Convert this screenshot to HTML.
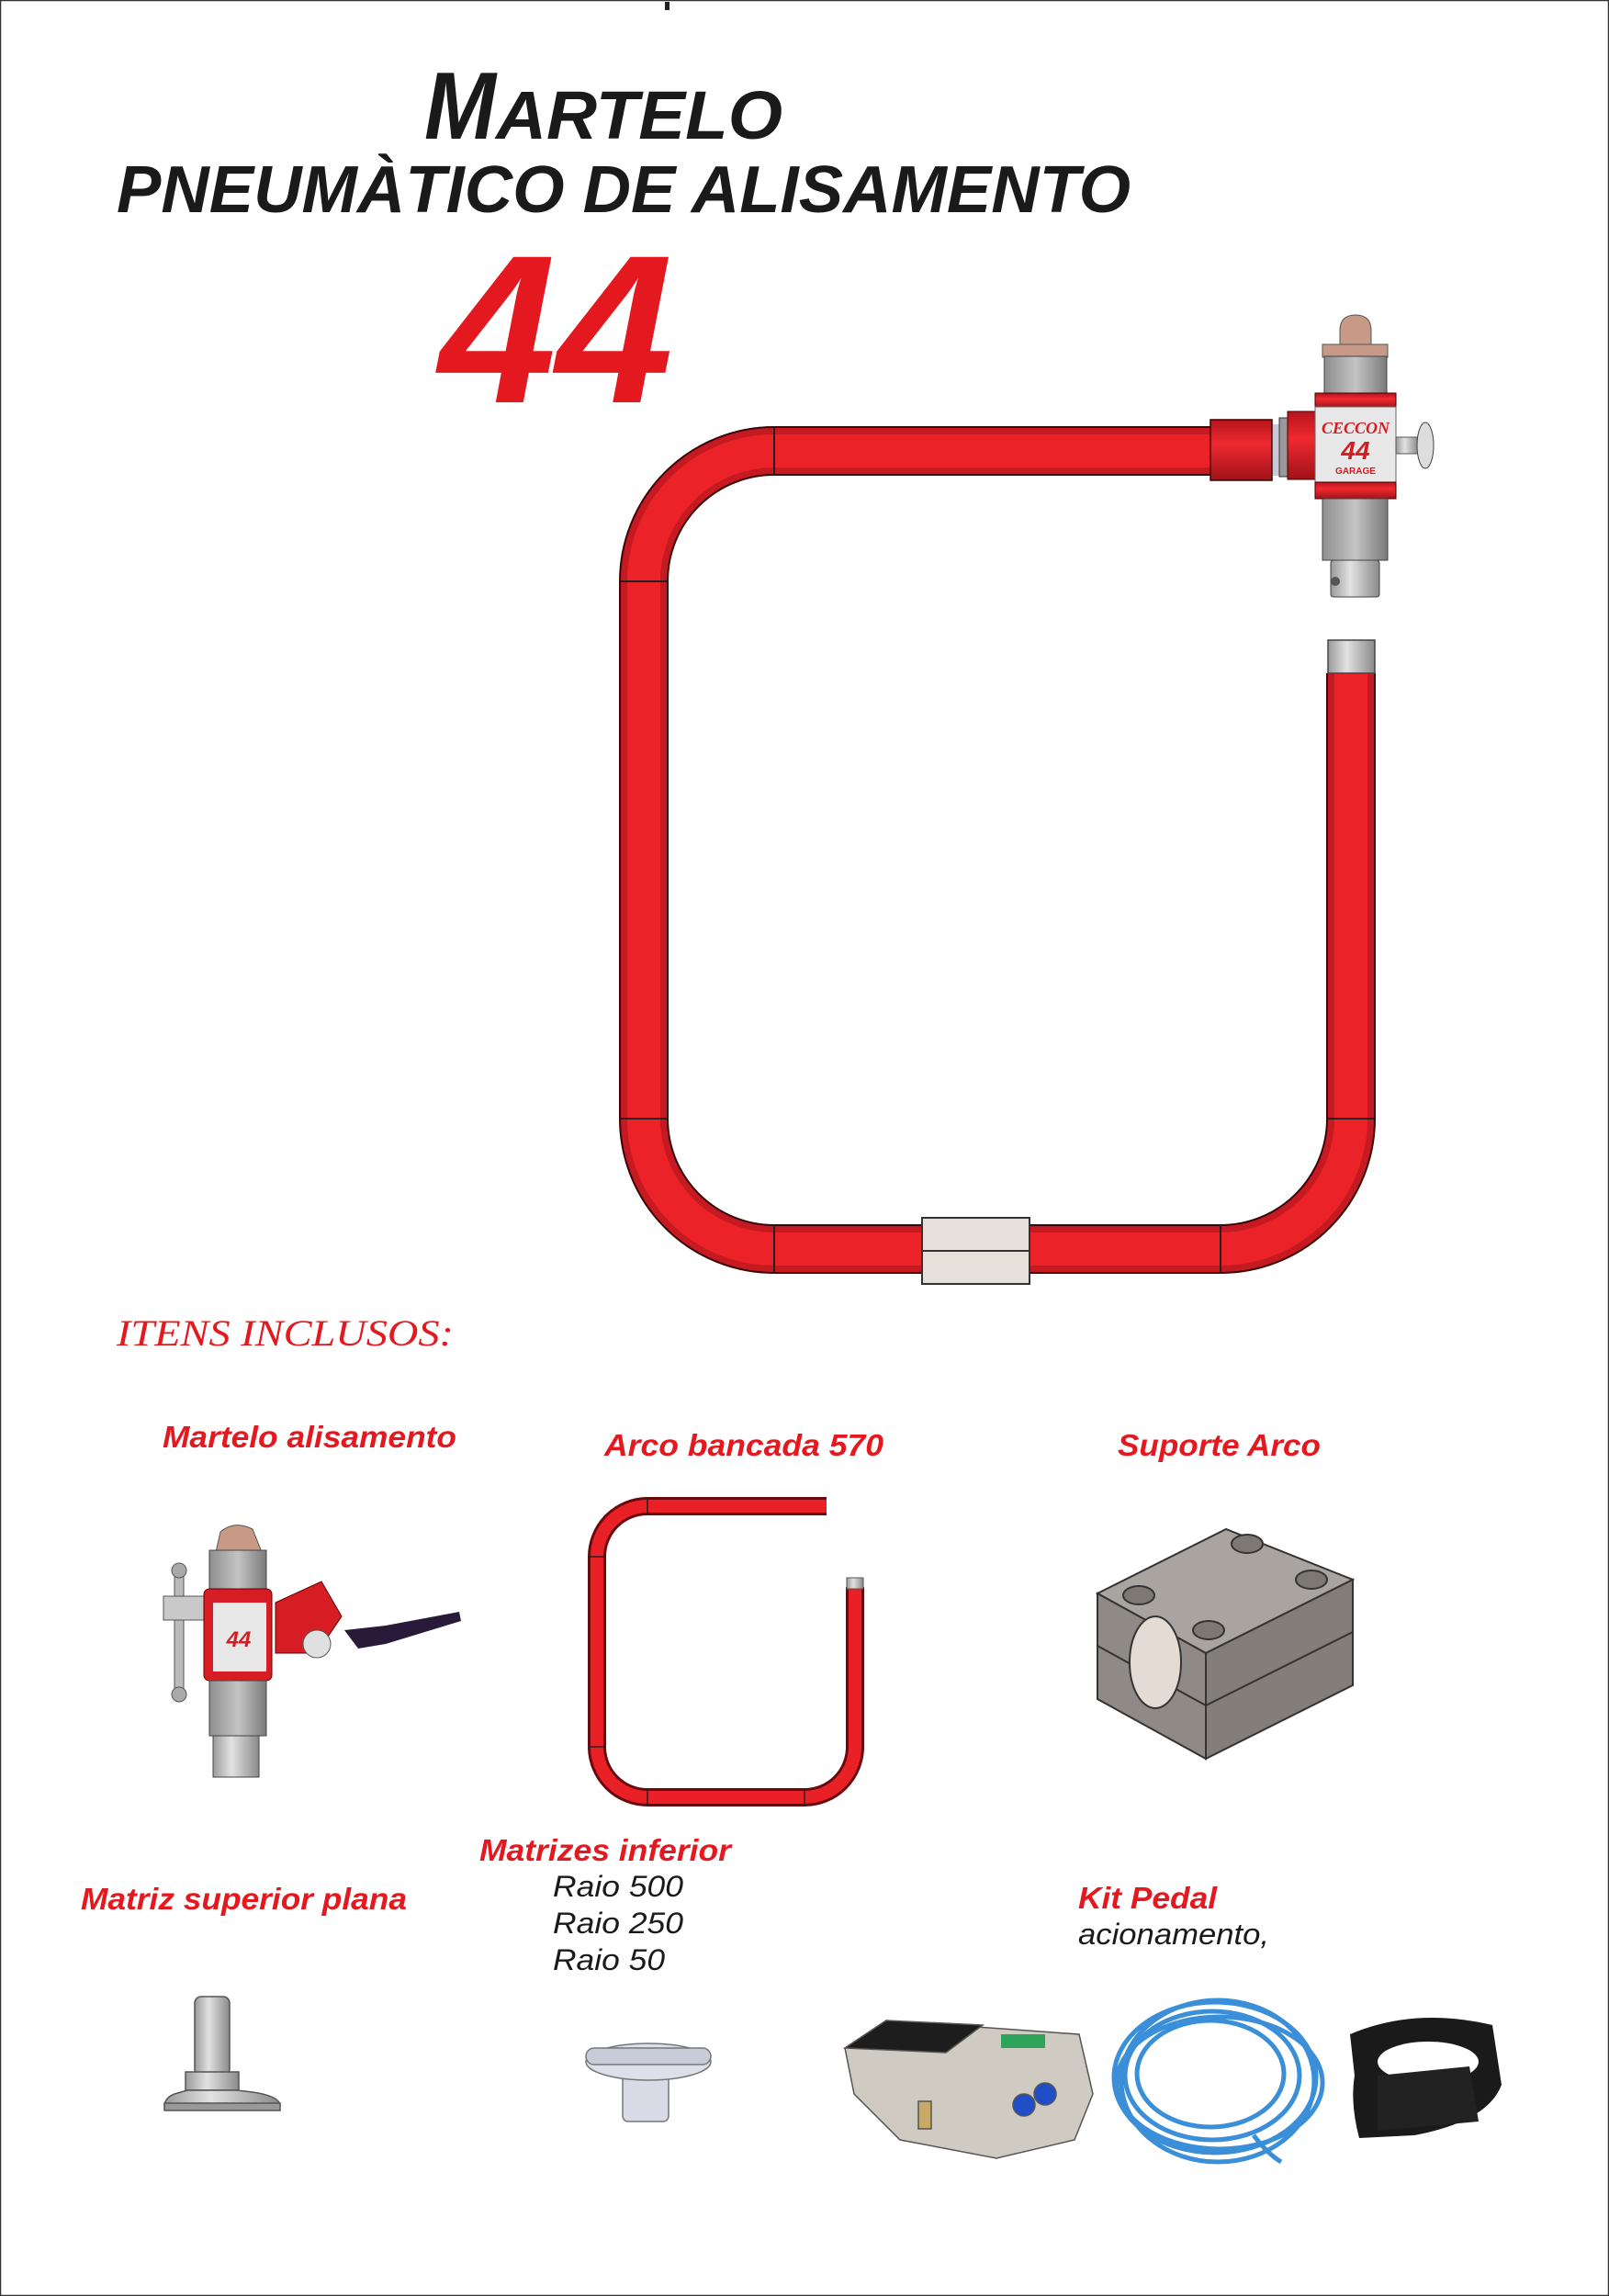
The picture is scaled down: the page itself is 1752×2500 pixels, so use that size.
<!DOCTYPE html>
<html><head><meta charset="utf-8"><style>
html,body{margin:0;padding:0;background:#fff}
svg{display:block}
</style></head><body>
<svg width="1752" height="2500" viewBox="0 0 1752 2500" xmlns="http://www.w3.org/2000/svg">
<defs>
<linearGradient id="gr" x1="0" y1="0" x2="1" y2="0"><stop offset="0" stop-color="#8e8e8e"/><stop offset=".5" stop-color="#c4c4c4"/><stop offset="1" stop-color="#7a7a7a"/></linearGradient>
<linearGradient id="sil" x1="0" y1="0" x2="1" y2="0"><stop offset="0" stop-color="#9a9a9a"/><stop offset=".4" stop-color="#e2e2e2"/><stop offset="1" stop-color="#8a8a8a"/></linearGradient>
<linearGradient id="rd" x1="0" y1="0" x2="0" y2="1"><stop offset="0" stop-color="#b5141b"/><stop offset=".4" stop-color="#ee2a30"/><stop offset="1" stop-color="#a0121a"/></linearGradient>
</defs>
<rect x="0.5" y="0.5" width="1751" height="2499" fill="#fff" stroke="#333" stroke-width="1.5"/>
<rect x="724" y="2" width="5" height="9" fill="#222"/>

<!-- Title -->
<g font-family="Liberation Sans, sans-serif" font-weight="bold" font-style="italic" fill="#1a1a1a">
<text x="462" y="151" font-size="104" textLength="78" lengthAdjust="spacingAndGlyphs">M</text>
<text x="540" y="151" font-size="74" textLength="312" lengthAdjust="spacingAndGlyphs">ARTELO</text>
<text x="127" y="231" font-size="72" textLength="1104" lengthAdjust="spacingAndGlyphs">PNEUMÀTICO DE ALISAMENTO</text>
</g>
<text x="478" y="438" font-family="Liberation Sans, sans-serif" font-weight="bold" font-style="italic" font-size="230" fill="#e4191f" textLength="255" lengthAdjust="spacingAndGlyphs">44</text>

<!-- Main arc -->
<g fill="none" stroke-linecap="butt">
<path d="M1322,491 H843 A142,142 0 0 0 701,633 V1218 A142,142 0 0 0 843,1360 H1329 A142,142 0 0 0 1471,1218 V733" stroke="#3a0608" stroke-width="54"/>
<path d="M1322,491 H843 A142,142 0 0 0 701,633 V1218 A142,142 0 0 0 843,1360 H1329 A142,142 0 0 0 1471,1218 V733" stroke="#c51a21" stroke-width="50"/>
<path d="M1322,491 H843 A142,142 0 0 0 701,633 V1218 A142,142 0 0 0 843,1360 H1329 A142,142 0 0 0 1471,1218 V733" stroke="#ec2229" stroke-width="36"/>
</g>
<g stroke="#222" stroke-width="2">
<line x1="843" y1="465" x2="843" y2="518"/><line x1="676" y1="633" x2="727" y2="633"/>
<line x1="676" y1="1218" x2="727" y2="1218"/><line x1="843" y1="1334" x2="843" y2="1387"/>
<line x1="1329" y1="1334" x2="1329" y2="1387"/><line x1="1445" y1="1218" x2="1497" y2="1218"/>
</g>
<rect x="1446" y="697" width="51" height="36" fill="url(#sil)" stroke="#444" stroke-width="1.5"/>
<rect x="1004" y="1326" width="117" height="36" fill="#e6e0da" stroke="#333" stroke-width="2"/>
<rect x="1004" y="1362" width="117" height="36" fill="#e6e0da" stroke="#333" stroke-width="2"/>

<!-- Hammer top -->
<rect x="1318" y="457" width="67" height="66" fill="url(#rd)" stroke="#400" stroke-width="1.5"/>
<rect x="1386" y="462" width="8" height="56" fill="#c8c8d8"/>
<rect x="1393" y="455" width="10" height="64" fill="#999" stroke="#333"/>
<rect x="1402" y="448" width="30" height="74" fill="url(#rd)" stroke="#400"/>
<path d="M1459,388 V360 Q1459,343 1476,343 Q1493,343 1493,360 V388 Z" fill="#c69a86" stroke="#555"/>
<rect x="1440" y="375" width="71" height="14" fill="#c69a86" stroke="#555"/>
<rect x="1442" y="388" width="68" height="40" fill="url(#gr)" stroke="#444"/>
<rect x="1432" y="428" width="88" height="16" fill="url(#rd)" stroke="#400"/>
<rect x="1432" y="443" width="88" height="82" fill="#e8e8e8" stroke="#666"/>
<text x="1476" y="472" text-anchor="middle" font-family="Liberation Serif, serif" font-weight="bold" font-style="italic" font-size="18" fill="#d31b22">CECCON</text>
<text x="1476" y="500" text-anchor="middle" font-family="Liberation Sans, sans-serif" font-weight="bold" font-style="italic" font-size="28" fill="#d31b22">44</text>
<text x="1476" y="516" text-anchor="middle" font-family="Liberation Sans, sans-serif" font-weight="bold" font-size="10" fill="#d31b22">GARAGE</text>
<rect x="1432" y="525" width="88" height="18" fill="url(#rd)" stroke="#400"/>
<rect x="1520" y="476" width="24" height="18" fill="url(#sil)" stroke="#555"/>
<ellipse cx="1552" cy="485" rx="9" ry="25" fill="#ddd" stroke="#444"/>
<rect x="1440" y="543" width="71" height="67" fill="url(#gr)" stroke="#444"/>
<rect x="1449" y="610" width="53" height="40" rx="3" fill="url(#sil)" stroke="#444"/>
<circle cx="1454" cy="633" r="5" fill="#555"/>

<!-- Section heading -->
<text x="127" y="1465" font-family="Liberation Serif, serif" font-style="italic" font-size="40" fill="#e4191f" textLength="367" lengthAdjust="spacingAndGlyphs">ITENS INCLUSOS:</text>

<g font-family="Liberation Sans, sans-serif" font-weight="bold" font-style="italic" fill="#e4191f" font-size="33">
<text x="177" y="1576" textLength="320" lengthAdjust="spacingAndGlyphs">Martelo alisamento</text>
<text x="658" y="1585" textLength="304" lengthAdjust="spacingAndGlyphs">Arco bancada 570</text>
<text x="1217" y="1585" textLength="221" lengthAdjust="spacingAndGlyphs">Suporte Arco</text>
<text x="522" y="2026" textLength="274" lengthAdjust="spacingAndGlyphs">Matrizes inferior</text>
<text x="88" y="2079" textLength="355" lengthAdjust="spacingAndGlyphs">Matriz superior plana</text>
<text x="1174" y="2078" textLength="151" lengthAdjust="spacingAndGlyphs">Kit Pedal</text>
</g>
<g font-family="Liberation Sans, sans-serif" font-style="italic" fill="#1a1a1a" font-size="32">
<text x="602" y="2065" textLength="142" lengthAdjust="spacingAndGlyphs">Raio 500</text>
<text x="602" y="2105" textLength="142" lengthAdjust="spacingAndGlyphs">Raio 250</text>
<text x="602" y="2145" textLength="122" lengthAdjust="spacingAndGlyphs">Raio 50</text>
<text x="1174" y="2117" textLength="208" lengthAdjust="spacingAndGlyphs">acionamento,</text>
</g>

<!-- Item: hammer -->
<g>
<rect x="190" y="1715" width="10" height="125" fill="#bbb" stroke="#555"/>
<circle cx="195" cy="1710" r="8" fill="#aaa" stroke="#555"/>
<circle cx="195" cy="1845" r="8" fill="#aaa" stroke="#555"/>
<rect x="178" y="1738" width="70" height="26" fill="#c9c9c9" stroke="#555"/>
<path d="M300,1745 L350,1722 L372,1760 L345,1800 L300,1800 Z" fill="#d71d24" stroke="#600"/>
<path d="M375,1775 L420,1770 L500,1755 L502,1765 L420,1790 L390,1795 Z" fill="#2a1a3a"/>
<circle cx="345" cy="1790" r="15" fill="#e0e0e0" stroke="#555"/>
<path d="M235,1690 L240,1668 Q255,1655 275,1665 L285,1690 Z" fill="#c69a86" stroke="#555"/>
<rect x="228" y="1688" width="62" height="45" fill="url(#gr)" stroke="#444"/>
<rect x="222" y="1730" width="74" height="100" rx="6" fill="#d71d24" stroke="#600"/>
<rect x="232" y="1745" width="58" height="75" fill="#e8e8e8"/>
<text x="260" y="1793" text-anchor="middle" font-family="Liberation Sans, sans-serif" font-weight="bold" font-style="italic" font-size="24" fill="#d71d24">44</text>
<rect x="228" y="1830" width="62" height="60" fill="url(#gr)" stroke="#444"/>
<rect x="232" y="1890" width="50" height="45" fill="url(#sil)" stroke="#444"/>
</g>

<!-- Item: small arco -->
<g fill="none">
<path d="M900,1640 H705 A55,55 0 0 0 650,1695 V1902 A55,55 0 0 0 705,1957 H876 A55,55 0 0 0 931,1902 V1728" stroke="#6a0a0e" stroke-width="20"/>
<path d="M900,1640 H705 A55,55 0 0 0 650,1695 V1902 A55,55 0 0 0 705,1957 H876 A55,55 0 0 0 931,1902 V1728" stroke="#ea2027" stroke-width="14"/>
</g>
<rect x="922" y="1718" width="18" height="12" fill="url(#sil)" stroke="#555"/>
<g stroke="#222" stroke-width="1.5"><line x1="705" y1="1630" x2="705" y2="1650"/><line x1="640" y1="1695" x2="660" y2="1695"/><line x1="640" y1="1902" x2="660" y2="1902"/><line x1="705" y1="1947" x2="705" y2="1967"/><line x1="876" y1="1947" x2="876" y2="1967"/></g>

<!-- Item: block -->
<g stroke="#333" stroke-width="2">
<polygon points="1195,1735 1335,1665 1473,1720 1313,1800" fill="#a9a49f"/>
<polygon points="1195,1735 1313,1800 1313,1915 1195,1850" fill="#8f8a85"/>
<polygon points="1313,1800 1473,1720 1473,1835 1313,1915" fill="#837e79"/>
<line x1="1195" y1="1792" x2="1313" y2="1857"/><line x1="1313" y1="1857" x2="1473" y2="1777"/>
<ellipse cx="1240" cy="1737" rx="17" ry="10" fill="#7d7873"/>
<ellipse cx="1358" cy="1681" rx="17" ry="10" fill="#7d7873"/>
<ellipse cx="1428" cy="1720" rx="17" ry="10" fill="#7d7873"/>
<ellipse cx="1316" cy="1775" rx="17" ry="10" fill="#7d7873"/>
<ellipse cx="1258" cy="1810" rx="28" ry="50" fill="#e4dcd4"/>
</g>

<!-- Item: matriz superior -->
<g stroke="#555" stroke-width="1.5">
<rect x="212" y="2174" width="38" height="86" rx="7" fill="url(#sil)"/>
<rect x="202" y="2256" width="58" height="20" fill="url(#sil)"/>
<path d="M204,2276 L190,2280 Q180,2284 179,2292 H305 Q303,2282 275,2278 L258,2276 Z" fill="url(#sil)"/>
<rect x="179" y="2290" width="126" height="8" fill="#999"/>
</g>

<!-- Item: die -->
<g stroke="#777" stroke-width="1.5">
<rect x="678" y="2250" width="50" height="60" rx="6" fill="#d8dbe6"/>
<ellipse cx="706" cy="2245" rx="68" ry="20" fill="#dde0ea"/>
<rect x="638" y="2230" width="136" height="18" rx="9" fill="#c8ccd8"/>
</g>

<!-- Item: pedal -->
<g stroke="#555" stroke-width="1.5">
<polygon points="920,2230 965,2200 1175,2215 1190,2280 1170,2330 1085,2350 980,2330 930,2280" fill="#cfcbc3"/>
<polygon points="920,2230 965,2200 1070,2205 1030,2235" fill="#1d1d1d"/>
<rect x="1090" y="2215" width="48" height="15" fill="#2da45a" stroke="none"/>
<rect x="1000" y="2288" width="14" height="30" fill="#c8a865"/>
<circle cx="1115" cy="2292" r="12" fill="#1f4ec6"/>
<circle cx="1138" cy="2280" r="12" fill="#1f4ec6"/>
</g>

<!-- Item: coil -->
<g fill="none" stroke="#3a8fd8" stroke-width="5">
<ellipse cx="1323" cy="2262" rx="110" ry="82"/>
<ellipse cx="1320" cy="2260" rx="95" ry="70"/>
<ellipse cx="1326" cy="2266" rx="105" ry="88"/>
<ellipse cx="1318" cy="2258" rx="80" ry="58"/>
<ellipse cx="1328" cy="2268" rx="112" ry="72"/>
<path d="M1365,2325 Q1380,2345 1395,2354"/>
</g>

<!-- Item: strap -->
<path d="M1470,2215 Q1540,2185 1625,2205 L1635,2270 Q1620,2310 1540,2325 L1480,2328 Q1470,2290 1475,2260 Z" fill="#1a1a1a"/>
<ellipse cx="1555" cy="2245" rx="55" ry="22" fill="#fff"/>
<path d="M1500,2260 L1600,2250 L1610,2310 L1500,2320 Z" fill="#222"/>
</svg>
</body></html>
